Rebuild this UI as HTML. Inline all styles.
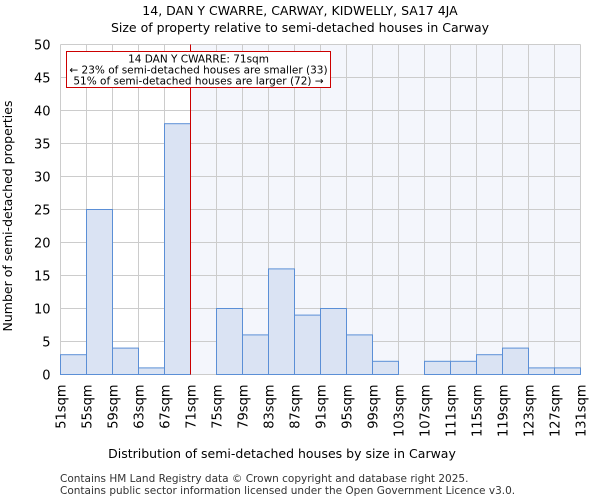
<!DOCTYPE html>
<html><head><meta charset="utf-8"><style>
body{margin:0;background:#fff;}
svg{display:block;font-family:"DejaVu Sans","Liberation Sans",sans-serif;}
</style></head><body>
<svg id="chart" width="600" height="500" viewBox="0 0 600 500">
<text x="300" y="15" text-anchor="middle" font-size="12.5">14, DAN Y CWARRE, CARWAY, KIDWELLY, SA17 4JA</text>
<text x="300" y="32" text-anchor="middle" font-size="12.5">Size of property relative to semi-detached houses in Carway</text>
<g id="plot"></g>
<text x="282" y="458" text-anchor="middle" font-size="12.5">Distribution of semi-detached houses by size in Carway</text>
<text transform="translate(12,216) rotate(-90)" text-anchor="middle" font-size="12.5">Number of semi-detached properties</text>
<text x="60" y="482" font-size="10.5" fill="#333">Contains HM Land Registry data © Crown copyright and database right 2025.</text>
<text x="60" y="494" font-size="10.5" fill="#333">Contains public sector information licensed under the Open Government Licence v3.0.</text>
</svg>
<script>
const binStarts=[51,55,59,63,67,71,75,79,83,87,91,95,99,103,107,111,115,119,123,127];
const counts=[3,25,4,1,38,0,10,6,16,9,10,6,2,0,2,2,3,4,1,1];
const yTicks=[0,5,10,15,20,25,30,35,40,45,50];
const xTickLabels=[51,55,59,63,67,71,75,79,83,87,91,95,99,103,107,111,115,119,123,127,131];
const propertySize=71;
const L=60.5,R=580.5,T=44.5,B=374.5,xMin=51,xMax=131,yMax=50;
const xs=v=>L+(v-xMin)/(xMax-xMin)*(R-L);
const ys=v=>B-v/yMax*(B-T);
const NS="http://www.w3.org/2000/svg";
const g=document.getElementById('plot');
function mk(t,a){const e=document.createElementNS(NS,t);for(const k in a)e.setAttribute(k,a[k]);g.appendChild(e);return e;}
let e;
e=mk('rect',{x:xs(propertySize),y:T,width:R-xs(propertySize),height:B-T,fill:'#f4f6fc'});


yTicks.forEach(v=>{
 e=mk('line',{x1:L,x2:R,y1:ys(v),y2:ys(v),stroke:'#cccccc','stroke-width':1});
 
 
 e=mk('text',{x:L-10,y:ys(v)+5,'text-anchor':'end','font-size':13});
 e.textContent=v;
 
 
});
xTickLabels.forEach(v=>{
 e=mk('line',{x1:xs(v),x2:xs(v),y1:T,y2:B,stroke:'#cccccc','stroke-width':1});
 
 
 e=mk('text',{transform:`translate(${xs(v)+5},${B+10}) rotate(-90)`,'text-anchor':'end','font-size':13});
 e.textContent=v+'sqm';
 
 
});
binStarts.forEach((s,i)=>{
 if(counts[i]<=0)return;
 e=mk('rect',{x:xs(s),y:ys(counts[i]),width:xs(s+4)-xs(s),height:B-ys(counts[i]),fill:'#dae3f3',stroke:'#5b8fd6','stroke-width':1});
 
 
});
e=mk('line',{x1:xs(propertySize),x2:xs(propertySize),y1:T,y2:B,stroke:'#cc0000','stroke-width':1});


e=mk('rect',{x:66.5,y:51.5,width:264,height:36,fill:'#fff',stroke:'#cc0000','stroke-width':1});


['14 DAN Y CWARRE: 71sqm','← 23% of semi-detached houses are smaller (33)','51% of semi-detached houses are larger (72) →'].forEach((t,i)=>{
 e=mk('text',{x:198.5,y:62.5+i*11,'text-anchor':'middle','font-size':10.5});
 e.textContent=t;
 
 
});
</script>
</body></html>
